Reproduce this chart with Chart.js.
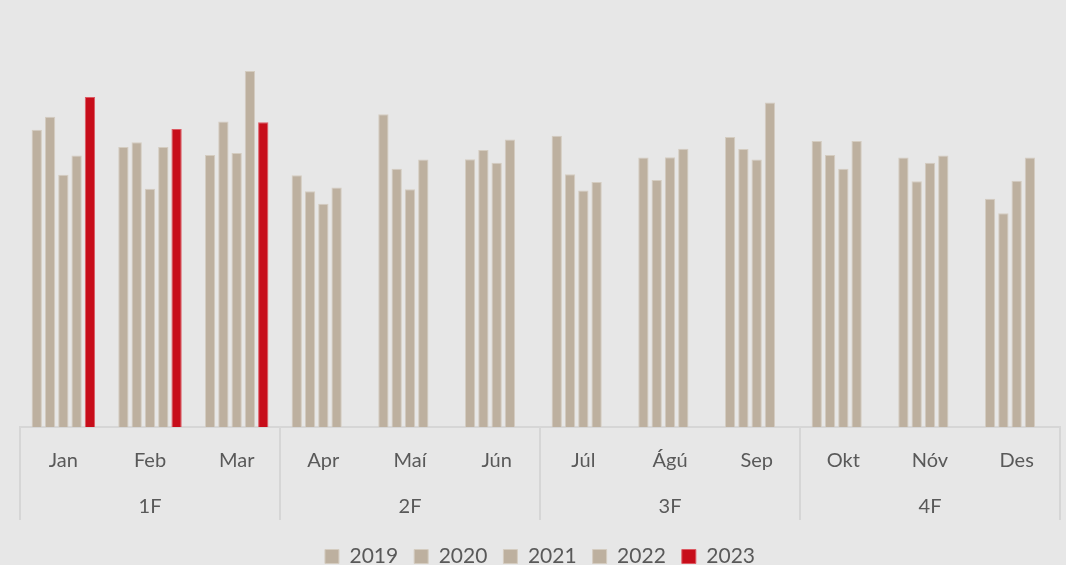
<!DOCTYPE html>
<html>
<head>
<meta charset="utf-8">
<script src="https://cdn.jsdelivr.net/npm/chart.js@4/dist/chart.umd.min.js"></script>
<style>
  html, body { margin: 0; padding: 0; background: #e7e7e7; overflow: hidden; }
  #wrap { width: 1066px; height: 577px; }
</style>
</head>
<body>
<div id="wrap"><canvas id="c" width="1066" height="577"></canvas></div>
<script>
const months = ['Jan', 'Feb', 'Mar', 'Apr', 'Maí', 'Jún', 'Júl', 'Ágú', 'Sep', 'Okt', 'Nóv', 'Des'];
const quarters = ['1F', '2F', '3F', '4F'];
const years = ['2019', '2020', '2021', '2022', '2023'];

const v2019 = [74.1, 69.8, 67.8, 62.8, 78.0, 66.8, 72.6, 67.2, 72.3, 71.3, 67.2, 56.9];
const v2020 = [77.4, 71.0, 76.2, 58.8, 64.4, 69.1, 63.0, 61.6, 69.3, 67.8, 61.3, 53.3];
const v2021 = [62.9, 59.4, 68.3, 55.7, 59.3, 65.9, 59.0, 67.3, 66.7, 64.4, 65.9, 61.4];
const v2022 = [67.7, 69.8, 88.8, 59.7, 66.7, 71.7, 61.1, 69.4, 80.9, 71.3, 67.7, 67.2];
const v2023 = [82.3, 74.3, 76.0, null, null, null, null, null, null, null, null, null];

const tan = '#bdb09f', tanBorder = '#d4ccc0';
const red = '#c70d1a', redBorder = '#dc5a63';
const textColor = '#595959';
const fontFamily = 'Lato, "Open Sans", sans-serif';

const seriesValues = [v2019, v2020, v2021, v2022, v2023];
const datasets = years.map((y, i) => ({
  label: y,
  data: seriesValues[i],
  backgroundColor: i === 4 ? red : tan,
  borderColor: i === 4 ? redBorder : tanBorder,
  borderWidth: 1,
  categoryPercentage: 0.767,
  barPercentage: 0.775
}));

const groupAxis = {
  id: 'groupAxis',
  afterDraw(chart) {
    const ctx = chart.ctx;
    const x = chart.scales.x;
    const base = chart.chartArea.bottom;
    const half = (x.getPixelForValue(1) - x.getPixelForValue(0)) / 2;
    ctx.save();
    ctx.strokeStyle = '#d6d6d6';
    ctx.lineWidth = 2;
    for (let q = 0; q <= quarters.length; q++) {
      const idx = q * 3;
      const px = idx < months.length ? x.getPixelForValue(idx) - half : x.getPixelForValue(months.length - 1) + half;
      ctx.beginPath();
      ctx.moveTo(Math.round(px), base);
      ctx.lineTo(Math.round(px), base + 93);
      ctx.stroke();
    }
    ctx.fillStyle = textColor;
    ctx.font = '20px ' + fontFamily;
    ctx.textAlign = 'center';
    ctx.textBaseline = 'middle';
    quarters.forEach((q, i) => {
      ctx.fillText(q, x.getPixelForValue(i * 3 + 1), base + 80);
    });
    ctx.restore();
  }
};

new Chart(document.getElementById('c'), {
  type: 'bar',
  data: { labels: months, datasets },
  options: {
    responsive: false,
    animation: false,
    layout: { padding: { top: 26, left: 20, right: 6, bottom: 0 } },
    scales: {
      x: {
        grid: { display: false, drawTicks: false },
        border: { display: true, color: '#d6d6d6', width: 2 },
        ticks: { color: textColor, font: { family: fontFamily, size: 20 }, padding: 22, maxRotation: 0 },
        afterFit(scale) { scale.height = 103; }
      },
      y: { display: false, min: 0, max: 100 }
    },
    plugins: {
      legend: {
        position: 'bottom',
        labels: {
          color: textColor,
          font: { family: fontFamily, size: 21 },
          boxWidth: 14,
          boxHeight: 14,
          padding: 16
        }
      },
      tooltip: { enabled: false }
    }
  },
  plugins: [groupAxis]
});
</script>
</body>
</html>
